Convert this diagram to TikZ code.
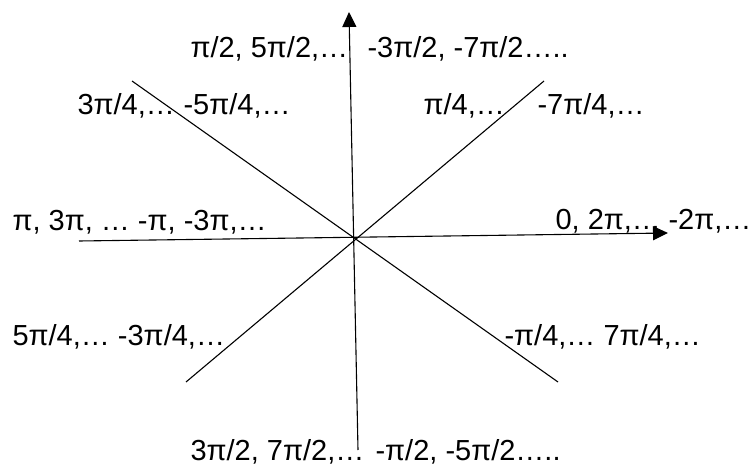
\documentclass[tikz,border=0pt]{standalone}
\usepackage{fontspec}
\setmainfont{Liberation Sans}
\usetikzlibrary{arrows.meta}

\begin{document}
\begin{tikzpicture}[x=1pt, y=-1pt, line width=1.1pt, every node/.style={inner sep=0pt, anchor=base west, font=\fontsize{29}{32}\selectfont}, axis/.style={-{Triangle[length=15pt, width=14pt]}}]
          \useasboundingbox (0, 0) rectangle (749, 465);

          \coordinate (origin) at (355, 238);

          \coordinate (up) at (349, 12);
          \coordinate (down) at (358, 450);
          \coordinate (left) at (79, 241);
          \coordinate (right) at (668, 233);
          \coordinate (ne) at (544, 81);
          \coordinate (nw) at (132, 81);
          \coordinate (sw) at (186, 382);
          \coordinate (se) at (558, 382);

          \draw[axis] (down) -- (up);
          \draw[axis] (left) -- (right);
          \draw (sw) -- (ne);
          \draw (nw) -- (se);

          \node (halfpos) at (190, 58) {π/2, 5π/2,…};
          \node (halfneg) at (367, 58) {-3π/2, -7π/2…..};

          \node (nwpos) at (77, 115) {3π/4,…};
          \node (nwneg) at (183, 115) {-5π/4,…};
          \node (nepos) at (423, 115) {π/4,…};
          \node (neneg) at (537, 115) {-7π/4,…};

          \node (pipos) at (12, 230) {π, 3π, … -π, -3π,…};
          \node (zeropos) at (555, 229) {0, 2π,…};
          \node (zeroneg) at (668, 229) {-2π,…};

          \node (swpos) at (12, 345) {5π/4,… -3π/4,…};
          \node (sepos) at (504, 345) {-π/4,… 7π/4,…};

          \node (downpos) at (190, 460) {3π/2, 7π/2,…};
          \node (downneg) at (375, 460) {-π/2, -5π/2…..};
        \end{tikzpicture}
\end{document}
